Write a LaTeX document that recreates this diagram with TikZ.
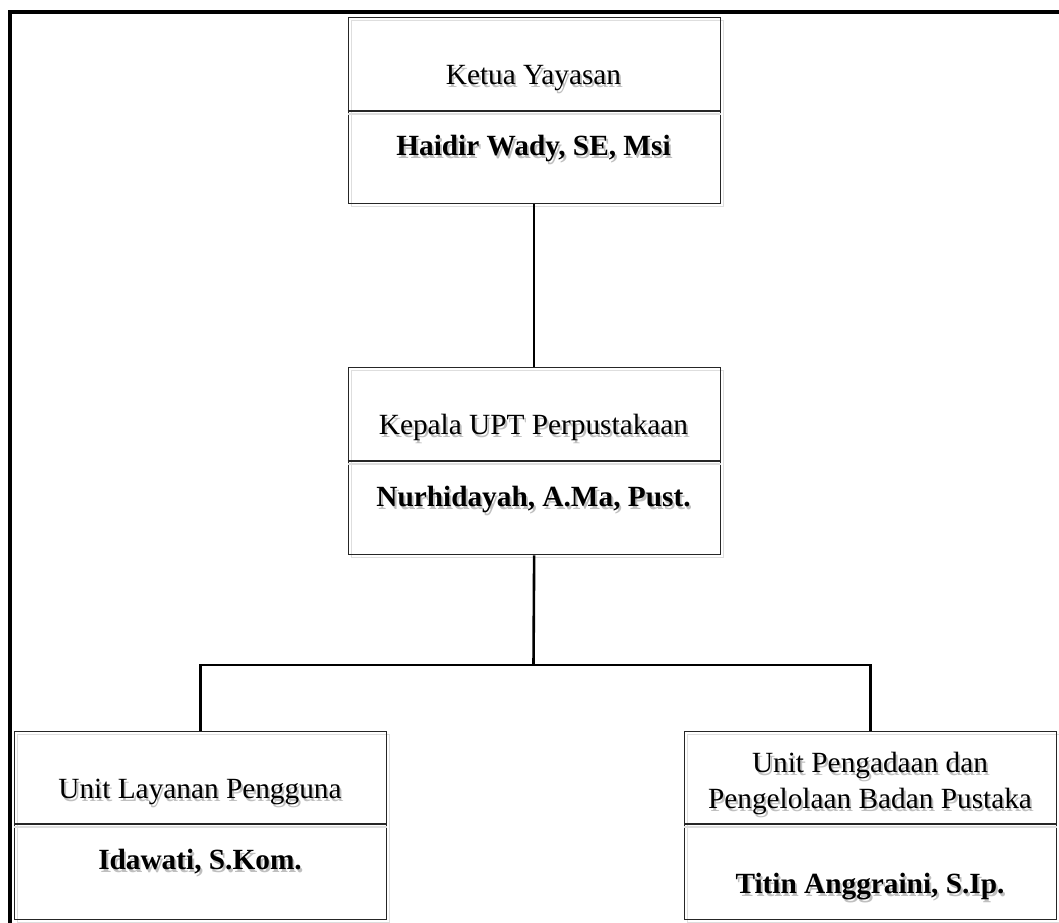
\documentclass[tikz,border=0pt]{standalone}
\usepackage{fontspec}
\setmainfont{Liberation Serif}
\usepackage{xcolor}
% text with a soft grey drop shadow
\newcommand{\shtext}[1]{\rlap{\kern2pt\raisebox{-3pt}{\textcolor{black!25}{#1}}}#1}
\begin{document}
\begin{tikzpicture}[x=1pt,y=-1pt,
  orgbox/.style={draw=black!85, line width=1.3pt, rectangle, inner sep=0pt,
    minimum width=372pt, anchor=north west,
    preaction={draw=black!13, line width=1.3pt, transform canvas={shift={(3pt,-3pt)}}}},
  divider/.style={draw=black!85, line width=1.3pt},
  divshadow/.style={draw=black!13, line width=1.3pt},
  lbl/.style={inner sep=0pt, anchor=base, font=\fontsize{29.3}{36}\selectfont},
  namelbl/.style={lbl, font=\fontsize{29.3}{36}\selectfont\bfseries},
  wire/.style={draw=black, line width=2.6pt},
  frame/.style={draw=black, line width=3.6pt}]
\useasboundingbox (0,0) rectangle (1059,922);

% outer frame (top and left edges)
\coordinate (fl) at (9.7,930);
\coordinate (fc) at (9.7,11.7);
\coordinate (fr) at (1070,11.7);
\draw[frame] (fl) -- (fc) -- (fr);

% boxes
\node[orgbox, minimum height=186pt] (k1) at (347.5,17) {};
\node[orgbox, minimum height=187pt] (k2) at (347.5,367) {};
\node[orgbox, minimum height=188pt] (u1) at (14,731) {};
\node[orgbox, minimum height=188pt] (u2) at (684,731) {};

% dividers between title and name
\draw[divshadow] ([yshift=-3pt]k1.west |- 0,111) -- ([yshift=-3pt]k1.east |- 0,111);
\draw[divshadow] ([yshift=-3pt]k2.west |- 0,461) -- ([yshift=-3pt]k2.east |- 0,461);
\draw[divshadow] ([yshift=-3pt]u1.west |- 0,824) -- ([yshift=-3pt]u1.east |- 0,824);
\draw[divshadow] ([yshift=-3pt]u2.west |- 0,824) -- ([yshift=-3pt]u2.east |- 0,824);
\draw[divider] (k1.west |- 0,111) -- (k1.east |- 0,111);
\draw[divider] (k2.west |- 0,461) -- (k2.east |- 0,461);
\draw[divider] (u1.west |- 0,824) -- (u1.east |- 0,824);
\draw[divider] (u2.west |- 0,824) -- (u2.east |- 0,824);

% titles and names
\node[lbl] (k1t) at (533.5,84) {\shtext{Ketua Yayasan}};
\node[namelbl] (k1n) at (533.5,155) {\shtext{Haidir Wady, SE, Msi}};
\node[lbl] (k2t) at (533.5,434) {\shtext{Kepala UPT Perpustakaan}};
\node[namelbl] (k2n) at (533.5,506) {\shtext{Nurhidayah, A.Ma, Pust.}};
\node[lbl] (u1t) at (200,798) {\shtext{Unit Layanan Pengguna}};
\node[namelbl] (u1n) at (200,869) {\shtext{Idawati, S.Kom.}};
\node[lbl] (u2ta) at (870,772) {\shtext{Unit Pengadaan dan}};
\node[lbl] (u2tb) at (870,808) {\shtext{Pengelolaan Badan Pustaka}};
\node[namelbl] (u2n) at (870,893) {\shtext{Titin Anggraini, S.Ip.}};

% connectors
\coordinate (bar) at (533.5,665);
\draw[wire] (k1.south) -- (k2.north);
\draw[wire] (k2.south) -- (bar);
\draw[wire] (u1.north) |- (bar) -| (u2.north);
\end{tikzpicture}
\end{document}
